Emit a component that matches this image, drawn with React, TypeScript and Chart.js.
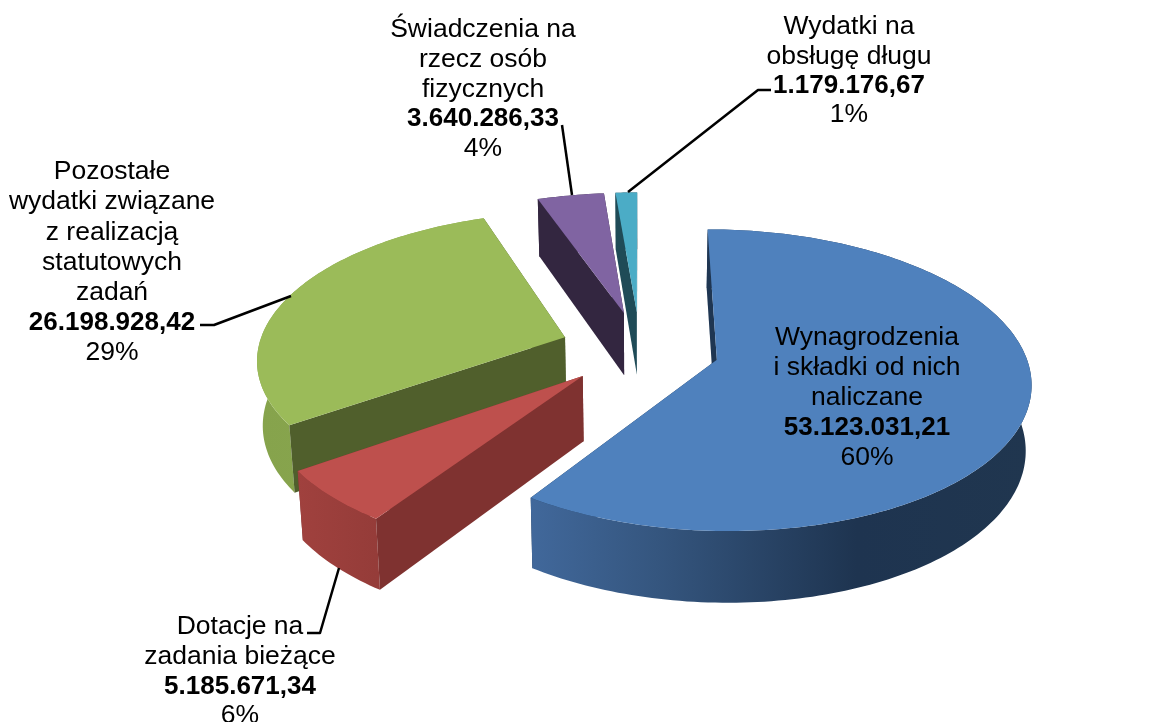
import React, { useEffect, useRef } from "react";
import { Chart, registerables } from "chart.js";

Chart.register(...registerables);

const categories = [
  "Wynagrodzenia i składki od nich naliczane",
  "Dotacje na zadania bieżące",
  "Pozostałe wydatki związane z realizacją statutowych zadań",
  "Świadczenia na rzecz osób fizycznych",
  "Wydatki na obsługę długu",
];
const values = [53123031.21, 5185671.34, 26198928.42, 3640286.33, 1179176.67];
const valueLabels = ["53.123.031,21", "5.185.671,34", "26.198.928,42", "3.640.286,33", "1.179.176,67"];
const percentLabels = ["60%", "6%", "29%", "4%", "1%"];
const nameLines = [
  ["Wynagrodzenia", "i składki od nich", "naliczane"],
  ["Dotacje na", "zadania bieżące"],
  ["Pozostałe", "wydatki związane", "z realizacją", "statutowych", "zadań"],
  ["Świadczenia na", "rzecz osób", "fizycznych"],
  ["Wydatki na", "obsługę długu"],
];
const topColors = ["#4F81BD", "#BE504D", "#9BBB59", "#8064A2", "#4BACC6"];
const cutColors = ["#1F3652", "#7F3230", "#505F2C", "#332640", "#1F4B57"];
const wallStops: [number, string][][] = [
  [[0, "#41689B"], [0.25, "#35567F"], [0.65, "#1E3450"], [1, "#20364F"]],
  [[0, "#A0413E"], [1, "#953C39"]],
  [[0, "#86A34C"], [1, "#8AA850"]],
  [[0, "#332640"], [1, "#332640"]],
  [[0, "#1F4B57"], [1, "#1F4B57"]],
];
const explosion = [80, 80, 80, 80, 80];

// label placement: centre x, y of first line, line spacing
const labelBoxes = [
  { x: 867, y: 338, dy: 30 },
  { x: 240, y: 627, dy: 29.67 },
  { x: 112, y: 172, dy: 30.17 },
  { x: 483, y: 30, dy: 29.75 },
  { x: 849, y: 27, dy: 29.3 },
];
const leaders: number[][][] = [
  [],
  [[307, 633], [320, 633], [339, 568]],
  [[200, 325], [214, 325], [291, 296]],
  [[562, 125], [572, 195]],
  [[771, 90], [758, 90], [628, 192]],
];

const KX = 0.995;
const KY = 0.47;
const PERSP = 0.135;
const PERSP_H = 0.1;
const THICK = 64;
const SHRINK = 0.985;
const FONT = '"Liberation Sans", Arial, sans-serif';
const FONT_SIZE = 26.5;
const BOLD_SIZE = 26;

const pie3d = {
  id: "pie3d",
  beforeDatasetsDraw(chart: any) {
    const ctx: CanvasRenderingContext2D = chart.ctx;
    const meta = chart.getDatasetMeta(0);
    const arcs = meta.data;
    const first = arcs[0];
    const R: number = first.outerRadius;
    const cx: number = first.x;
    const cy: number = first.y;

    const proj = (px: number, py: number, low: boolean) => {
      const f = 1 / (1 - (PERSP * py) / R);
      const fh = 1 / (1 - (PERSP_H * py) / R);
      const x = KX * px * f;
      const y = KY * py * f;
      return low ? [cx + x * SHRINK, cy + y + THICK * fh] : [cx + x, cy + y];
    };

    const order = arcs
      .map((a: any, i: number) => {
        const mid = (a.startAngle + a.endAngle) / 2;
        return { i, sy: a.options.offset * Math.sin(mid) };
      })
      .sort((p: any, q: any) => p.sy - q.sy);

    const fillPoly = (pts: number[][], fill: any) => {
      ctx.beginPath();
      pts.forEach((p, k) => (k ? ctx.lineTo(p[0], p[1]) : ctx.moveTo(p[0], p[1])));
      ctx.closePath();
      ctx.fillStyle = fill;
      ctx.fill();
    };

    for (const { i } of order) {
      const a = arcs[i];
      const mid = (a.startAngle + a.endAngle) / 2;
      const ox = a.options.offset * Math.cos(mid);
      const oy = a.options.offset * Math.sin(mid);
      const steps = Math.max(8, Math.ceil((a.endAngle - a.startAngle) / 0.02));
      const rim: [number, number][] = [];
      for (let s = 0; s <= steps; s++) {
        const t = a.startAngle + ((a.endAngle - a.startAngle) * s) / steps;
        rim.push([ox + R * Math.cos(t), oy + R * Math.sin(t)]);
      }
      const topRim = rim.map((p) => proj(p[0], p[1], false));
      const lowRim = rim.map((p) => proj(p[0], p[1], true));
      const apex = proj(ox, oy, false);
      const apexLow = proj(ox, oy, true);
      const m = proj(ox + R * Math.cos(mid), oy + R * Math.sin(mid), false);

      const visible = (e: number[]) => {
        const ex = e[0] - apex[0];
        const ey = e[1] - apex[1];
        const down = ex;
        const inner = ex * (m[1] - apex[1]) - ey * (m[0] - apex[0]);
        return down * inner < 0;
      };
      const wall = (k: number) => [apex, topRim[k], lowRim[k], apexLow];

      const xs = topRim.map((p) => p[0]);
      const minX = Math.min(...xs);
      const maxX = Math.max(...xs);
      const grad = ctx.createLinearGradient(minX, 0, maxX, 0);
      wallStops[i].forEach(([o, c]) => grad.addColorStop(o, c));

      const ends = [0, steps];
      ends.forEach((k) => {
        if (!visible(topRim[k])) fillPoly(wall(k), cutColors[i]);
      });
      fillPoly([...topRim, ...[...lowRim].reverse()], grad);
      ends.forEach((k) => {
        if (visible(topRim[k])) fillPoly(wall(k), cutColors[i]);
      });
      fillPoly([apex, ...topRim], topColors[i]);
    }

    // leader lines
    ctx.strokeStyle = "#000000";
    ctx.lineWidth = 2.5;
    ctx.lineJoin = "round";
    leaders.forEach((pts) => {
      if (!pts.length) return;
      ctx.beginPath();
      pts.forEach((p, k) => (k ? ctx.lineTo(p[0], p[1]) : ctx.moveTo(p[0], p[1])));
      ctx.stroke();
    });

    // labels
    ctx.fillStyle = "#000000";
    ctx.textAlign = "center";
    ctx.textBaseline = "middle";
    categories.forEach((_, i) => {
      const box = labelBoxes[i];
      const lines = [...nameLines[i], valueLabels[i], percentLabels[i]];
      lines.forEach((line, k) => {
        ctx.font = k === lines.length - 2 ? `bold ${BOLD_SIZE}px ${FONT}` : `${FONT_SIZE}px ${FONT}`;
        ctx.fillText(line, box.x, box.y + k * box.dy);
      });
    });
    return false;
  },
};

export default function App() {
  const ref = useRef<HTMLCanvasElement>(null);
  useEffect(() => {
    const chart = new Chart(ref.current as HTMLCanvasElement, {
      type: "pie",
      data: {
        labels: categories,
        datasets: [
          {
            data: values,
            backgroundColor: topColors,
            borderWidth: 0,
            offset: explosion,
          },
        ],
      },
      options: {
        responsive: false,
        animation: false,
        rotation: 0,
        layout: { padding: { left: 120, right: 0, top: 0, bottom: 25 } },
        plugins: { legend: { display: false }, tooltip: { enabled: false } },
      },
      plugins: [pie3d],
    } as any);
    return () => chart.destroy();
  }, []);
  return (
    <div style={{ position: "fixed", left: 0, top: 0, width: 1160, height: 722, background: "#fff" }}>
      <canvas ref={ref} width={1160} height={722} style={{ display: "block" }} />
    </div>
  );
}
